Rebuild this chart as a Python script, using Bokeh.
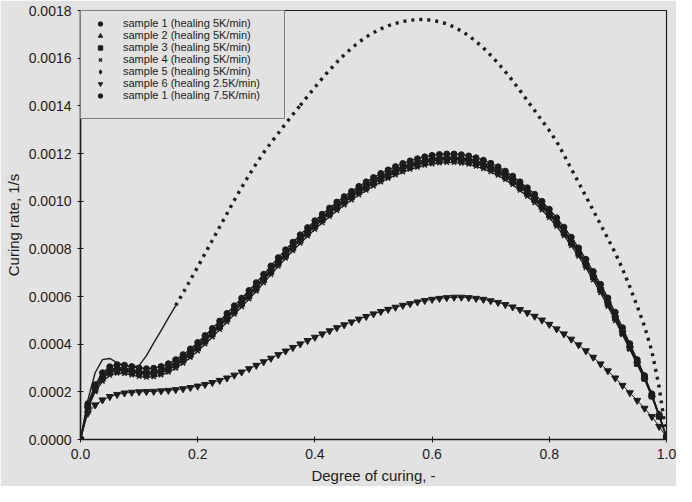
from bokeh.plotting import figure
from bokeh.models import (ColumnDataSource, Range1d, FixedTicker, NumeralTickFormatter,
                          Legend, LegendItem, CDSView, IndexFilter)
from bokeh.embed import file_html
from bokeh.resources import INLINE

# ---- data -----------------------------------------------------------------
DEG = [0.0, 0.0125, 0.025, 0.0375, 0.05, 0.0625, 0.075, 0.0875, 0.1, 0.1125,
       0.125, 0.1375, 0.15, 0.1625, 0.175, 0.1875, 0.2, 0.2125, 0.225, 0.2375,
       0.25, 0.2625, 0.275, 0.2875, 0.3, 0.3125, 0.325, 0.3375, 0.35, 0.3625,
       0.375, 0.3875, 0.4, 0.4125, 0.425, 0.4375, 0.45, 0.4625, 0.475, 0.4875,
       0.5, 0.5125, 0.525, 0.5375, 0.55, 0.5625, 0.575, 0.5875, 0.6, 0.6125,
       0.625, 0.6375, 0.65, 0.6625, 0.675, 0.6875, 0.7, 0.7125, 0.725, 0.7375,
       0.75, 0.7625, 0.775, 0.7875, 0.8, 0.8125, 0.825, 0.8375, 0.85, 0.8625,
       0.875, 0.8875, 0.9, 0.9125, 0.925, 0.9375, 0.95, 0.9625, 0.975, 0.9875,
       1.0]

S1_5K = [0.0, 0.000150, 0.000230, 0.000280, 0.000305, 0.000314, 0.000312, 0.000306, 0.000300, 0.000297,
         0.000299, 0.000306, 0.000318, 0.000335, 0.000356, 0.000380, 0.000407, 0.000436, 0.000466, 0.000497,
         0.000529, 0.000561, 0.000593, 0.000625, 0.000658, 0.000693, 0.000728, 0.000763, 0.000796, 0.000828,
         0.000859, 0.000889, 0.000918, 0.000945, 0.000971, 0.000996, 0.001019, 0.001041, 0.001062, 0.001081,
         0.001099, 0.001116, 0.001131, 0.001145, 0.001158, 0.001169, 0.001178, 0.001186, 0.001192, 0.001196,
         0.001198, 0.001198, 0.001195, 0.001190, 0.001182, 0.001172, 0.001159, 0.001144, 0.001126, 0.001105,
         0.001081, 0.001056, 0.001029, 0.000999, 0.000966, 0.000930, 0.000891, 0.000849, 0.000804, 0.000756,
         0.000705, 0.000651, 0.000594, 0.000534, 0.000469, 0.000402, 0.000335, 0.000268, 0.000191, 0.000104,
         0.000010]

S2_5K = [0.0, 0.000144, 0.000221, 0.000268, 0.000293, 0.000302, 0.000300, 0.000294, 0.000288, 0.000285,
         0.000287, 0.000294, 0.000306, 0.000323, 0.000344, 0.000368, 0.000395, 0.000424, 0.000454, 0.000485,
         0.000517, 0.000549, 0.000581, 0.000613, 0.000646, 0.000681, 0.000716, 0.000751, 0.000784, 0.000816,
         0.000847, 0.000877, 0.000906, 0.000933, 0.000959, 0.000984, 0.001007, 0.001029, 0.001050, 0.001069,
         0.001087, 0.001104, 0.001119, 0.001133, 0.001146, 0.001157, 0.001166, 0.001174, 0.001180, 0.001184,
         0.001186, 0.001186, 0.001183, 0.001178, 0.001170, 0.001160, 0.001147, 0.001132, 0.001114, 0.001093,
         0.001069, 0.001044, 0.001017, 0.000987, 0.000954, 0.000918, 0.000879, 0.000837, 0.000792, 0.000744,
         0.000693, 0.000639, 0.000582, 0.000522, 0.000460, 0.000396, 0.000331, 0.000263, 0.000188, 0.000103,
         0.000010]

S3_5K = [0.0, 0.000136, 0.000209, 0.000256, 0.000281, 0.000290, 0.000288, 0.000282, 0.000276, 0.000273,
         0.000275, 0.000282, 0.000294, 0.000311, 0.000332, 0.000356, 0.000383, 0.000412, 0.000442, 0.000473,
         0.000505, 0.000537, 0.000569, 0.000601, 0.000634, 0.000669, 0.000704, 0.000739, 0.000772, 0.000804,
         0.000835, 0.000865, 0.000894, 0.000921, 0.000947, 0.000972, 0.000995, 0.001017, 0.001038, 0.001057,
         0.001075, 0.001092, 0.001107, 0.001121, 0.001134, 0.001145, 0.001154, 0.001162, 0.001168, 0.001172,
         0.001174, 0.001174, 0.001171, 0.001166, 0.001158, 0.001148, 0.001135, 0.001120, 0.001102, 0.001081,
         0.001057, 0.001032, 0.001005, 0.000975, 0.000942, 0.000906, 0.000867, 0.000825, 0.000780, 0.000732,
         0.000681, 0.000627, 0.000570, 0.000510, 0.000448, 0.000384, 0.000319, 0.000257, 0.000182, 0.000097,
         0.000010]

S4_5K = [0.0, 0.000130, 0.000200, 0.000244, 0.000269, 0.000278, 0.000276, 0.000270, 0.000264, 0.000261,
         0.000263, 0.000270, 0.000282, 0.000299, 0.000320, 0.000344, 0.000371, 0.000400, 0.000430, 0.000461,
         0.000493, 0.000525, 0.000557, 0.000589, 0.000622, 0.000657, 0.000692, 0.000727, 0.000760, 0.000792,
         0.000823, 0.000853, 0.000882, 0.000909, 0.000935, 0.000960, 0.000983, 0.001005, 0.001026, 0.001045,
         0.001063, 0.001080, 0.001095, 0.001109, 0.001122, 0.001133, 0.001142, 0.001150, 0.001156, 0.001160,
         0.001162, 0.001162, 0.001159, 0.001154, 0.001146, 0.001136, 0.001123, 0.001108, 0.001090, 0.001069,
         0.001045, 0.001020, 0.000993, 0.000963, 0.000930, 0.000894, 0.000855, 0.000813, 0.000768, 0.000720,
         0.000669, 0.000615, 0.000558, 0.000498, 0.000439, 0.000378, 0.000315, 0.000252, 0.000179, 0.000096,
         0.000010]

S5_5K = [0.0, 0.000140, 0.000215, 0.000262, 0.000287, 0.000296, 0.000294, 0.000288, 0.000282, 0.000279,
         0.000281, 0.000288, 0.000300, 0.000317, 0.000338, 0.000362, 0.000389, 0.000418, 0.000448, 0.000479,
         0.000511, 0.000543, 0.000575, 0.000607, 0.000640, 0.000675, 0.000710, 0.000745, 0.000778, 0.000810,
         0.000841, 0.000871, 0.000900, 0.000927, 0.000953, 0.000978, 0.001001, 0.001023, 0.001044, 0.001063,
         0.001081, 0.001098, 0.001113, 0.001127, 0.001140, 0.001151, 0.001160, 0.001168, 0.001174, 0.001178,
         0.001180, 0.001180, 0.001177, 0.001172, 0.001164, 0.001154, 0.001141, 0.001126, 0.001108, 0.001087,
         0.001063, 0.001038, 0.001011, 0.000981, 0.000948, 0.000912, 0.000873, 0.000831, 0.000786, 0.000738,
         0.000687, 0.000633, 0.000576, 0.000516, 0.000454, 0.000390, 0.000325, 0.000260, 0.000185, 0.000100,
         0.000010]

S6_2K5 = [0.0, 0.000110, 0.000145, 0.000166, 0.000180, 0.000189, 0.000195, 0.000198, 0.000200, 0.000201,
          0.000202, 0.000204, 0.000206, 0.000209, 0.000213, 0.000218, 0.000224, 0.000231, 0.000239, 0.000248,
          0.000258, 0.000270, 0.000283, 0.000297, 0.000311, 0.000326, 0.000341, 0.000356, 0.000371, 0.000386,
          0.000401, 0.000415, 0.000429, 0.000443, 0.000456, 0.000469, 0.000481, 0.000493, 0.000505, 0.000516,
          0.000527, 0.000537, 0.000546, 0.000555, 0.000563, 0.000570, 0.000577, 0.000583, 0.000588, 0.000592,
          0.000595, 0.000597, 0.000597, 0.000595, 0.000592, 0.000588, 0.000582, 0.000575, 0.000566, 0.000556,
          0.000545, 0.000532, 0.000517, 0.000501, 0.000483, 0.000464, 0.000443, 0.000421, 0.000397, 0.000372,
          0.000345, 0.000317, 0.000288, 0.000258, 0.000227, 0.000196, 0.000164, 0.000131, 0.000096, 0.000055,
          0.000008]

S7_7K5 = [0.0, 0.000165, 0.000280, 0.000335, 0.000340, 0.000322, 0.000310, 0.000304, 0.000310, 0.000352,
          0.000405, 0.000457, 0.000510, 0.000562, 0.000615, 0.000669, 0.000724, 0.000780, 0.000836, 0.000892,
          0.000948, 0.001004, 0.001058, 0.001109, 0.001158, 0.001203, 0.001245, 0.001285, 0.001325, 0.001364,
          0.001402, 0.001440, 0.001478, 0.001515, 0.001550, 0.001583, 0.001614, 0.001642, 0.001667, 0.001689,
          0.001707, 0.001723, 0.001736, 0.001746, 0.001754, 0.001759, 0.001762, 0.001762, 0.001759, 0.001753,
          0.001744, 0.001731, 0.001714, 0.001694, 0.001670, 0.001643, 0.001612, 0.001579, 0.001543, 0.001505,
          0.001464, 0.001422, 0.001380, 0.001338, 0.001296, 0.001250, 0.001194, 0.001136, 0.001078, 0.001020,
          0.000961, 0.000902, 0.000843, 0.000783, 0.000715, 0.000640, 0.000560, 0.000475, 0.000370, 0.000220,
          0.000010]

X_TICKS = [0.0, 0.2, 0.4, 0.6, 0.8, 1.0]
Y_TICKS = [0.0, 0.0002, 0.0004, 0.0006, 0.0008, 0.0010, 0.0012, 0.0014, 0.0016, 0.0018]
LABELS = ["sample 1 (healing 5K/min)", "sample 2 (healing 5K/min)",
          "sample 3 (healing 5K/min)", "sample 4 (healing 5K/min)",
          "sample 5 (healing 5K/min)", "sample 6 (healing 2.5K/min)",
          "sample 1 (healing 7.5K/min)"]

# ---- styling ----------------------------------------------------------------
BG = "#e1e2e1"
INK = "#1c1c1c"
FONT = "Liberation Sans"

p = figure(width=676, height=486, output_backend="svg", toolbar_location=None,
           x_range=Range1d(0, 1), y_range=Range1d(0, 0.0018),
           min_border_left=80, min_border_right=10, min_border_top=10, min_border_bottom=44,
           background_fill_color=BG, border_fill_color=BG)
p.grid.visible = False
p.outline_line_color = INK
p.outline_line_width = 1.2

src = ColumnDataSource(dict(x=DEG, s1=S1_5K, s2=S2_5K, s3=S3_5K, s4=S4_5K,
                            s5=S5_5K, s6=S6_2K5, s7=S7_7K5))

# thin connecting lines make the dense bands continuous
for key in ["s1", "s2", "s3", "s4", "s5"]:
    p.line("x", key, source=src, line_color=INK, line_width=1.3)
p.line("x", "s6", source=src, line_color=INK, line_width=1.0)

# 7.5K/min curve: dense (solid-looking) start, dotted afterwards
N7 = 14
MID = 30
early7 = ColumnDataSource(dict(x=DEG[:N7], y=S7_7K5[:N7]))
rise7 = ColumnDataSource(dict(x=DEG[N7 - 1:MID + 1], y=S7_7K5[N7 - 1:MID + 1]))
rest7 = ColumnDataSource(dict(x=DEG[MID:], y=S7_7K5[MID:]))
p.line("x", "y", source=early7, line_color=INK, line_width=1.4)
for s in (rise7, rest7):
    p.line("x", "y", source=s, line_color=INK, line_width=3.4,
           line_dash="3 5", line_cap="butt")

r1 = p.scatter("x", "s1", source=src, marker="circle", size=6, color=INK)
r2 = p.scatter("x", "s2", source=src, marker="triangle", size=7, color=INK)
r3 = p.scatter("x", "s3", source=src, marker="square", size=5.5, color=INK)
r4 = p.scatter("x", "s4", source=src, marker="x", size=6, line_width=1.5, color=INK)
r5 = p.scatter("x", "s5", source=src, marker="diamond", size=8, color=INK)
r6 = p.scatter("x", "s6", source=src, marker="inverted_triangle", size=7, color=INK)

# legend glyph for the 7.5K series: a small dot (only the origin point is drawn)
r7 = p.scatter("x", "s7", source=src, view=CDSView(filter=IndexFilter(indices=[0])),
               marker="circle", size=3.5, color=INK)
rb = p.scatter("x", "s7", source=src, view=CDSView(filter=IndexFilter(indices=[])),
               marker="circle", size=0, alpha=0)

items = [LegendItem(label=lab, renderers=[r]) for lab, r in
         zip(LABELS, [r1, r2, r3, r4, r5, r6, r7])]
items += [LegendItem(label=" ", renderers=[rb])]
legend = Legend(items=items, location="top_left", margin=0, padding=6, spacing=0,
                label_height=11, glyph_height=11, glyph_width=26, label_standoff=10,
                label_width=155, label_text_font=FONT, label_text_font_size="11px",
                label_text_color=INK, border_line_color=INK, border_line_width=1,
                background_fill_color=BG, background_fill_alpha=1)
p.add_layout(legend)

p.xaxis.ticker = FixedTicker(ticks=X_TICKS)
p.yaxis.ticker = FixedTicker(ticks=Y_TICKS)
p.xaxis.formatter = NumeralTickFormatter(format="0.0")
p.yaxis.formatter = NumeralTickFormatter(format="0.0000")
p.xaxis.axis_label = "Degree of curing, -"
p.yaxis.axis_label = "Curing rate, 1/s"
for ax in (p.xaxis, p.yaxis):
    ax.axis_label_text_font = FONT
    ax.axis_label_text_font_size = "15px"
    ax.axis_label_text_font_style = "normal"
    ax.axis_label_text_color = INK
    ax.major_label_text_font = FONT
    ax.major_label_text_font_size = "14px"
    ax.major_label_text_color = INK
    ax.major_tick_in = 3
    ax.major_tick_out = 3
    ax.major_tick_line_color = INK
    ax.minor_tick_line_color = None
    ax.axis_line_color = INK
    ax.axis_line_width = 1.5
p.xaxis.major_label_standoff = 6
p.xaxis.axis_label_standoff = 5
p.yaxis.major_label_standoff = 6
p.yaxis.axis_label_standoff = 4

open("out.html", "w").write(file_html(p, INLINE))
